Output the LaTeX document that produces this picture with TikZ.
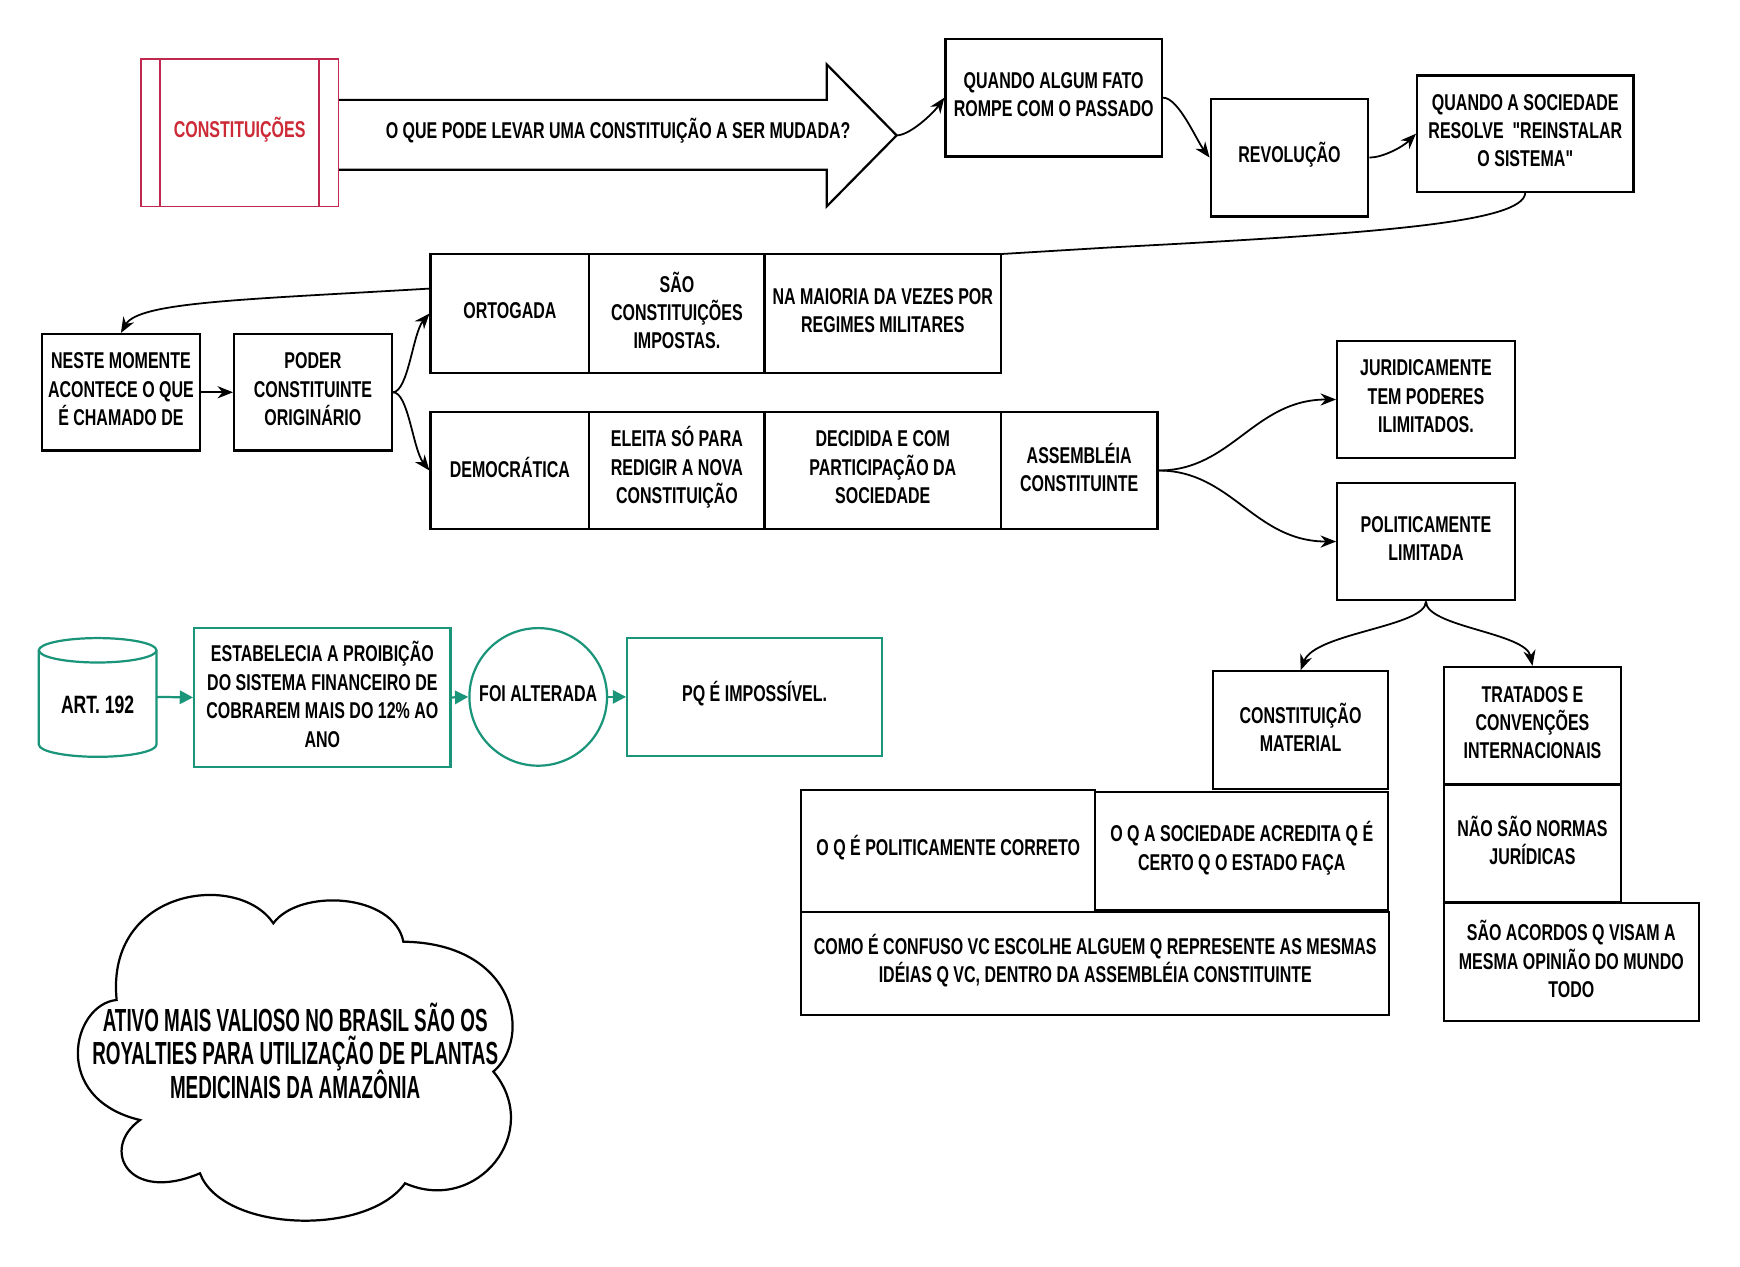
\documentclass[tikz,border=0pt]{standalone}
\usepackage{fontspec}
\setmainfont{Liberation Sans}[FakeStretch=0.7]
\newfontfamily\cloudfont{Liberation Sans}[FakeStretch=0.59]
\font\rawq="Liberation Sans/B:extend=0.7" at 10.3pt
\newcommand\sq{{\rawq\symbol{34}}}
\usetikzlibrary{arrows.meta}
\definecolor{tealc}{HTML}{1A957A}
\definecolor{crim}{HTML}{C0284F}
\definecolor{redtxt}{HTML}{CC2A36}
\newcommand\mybxfont{\bfseries\fontsize{10.3}{12.8}\selectfont\lineskiplimit=-20pt\relax}
\newcommand\mycloudfont{\cloudfont\bfseries\fontsize{14.4}{15}\selectfont\lineskiplimit=-20pt\relax}
\newcommand\mycylfont{\bfseries\fontsize{11.3}{13}\selectfont}
\tikzset{
  box/.style={draw, line width=1pt, fill=white, align=center, inner sep=0pt, font=\mybxfont},
  sz/.style 2 args={minimum width=#1*0.5pt, minimum height=#2*0.5pt},
  tx/.style={label={[plain, yshift=1.4pt]center:{#1}}},
  conn/.style={line width=0.8pt, -{Stealth[length=7pt,width=5.5pt]}},
  tconn/.style={draw=tealc, line width=1pt, -{Triangle[length=6pt,width=6pt]}},
  plain/.style={align=center, inner sep=0pt, font=\mybxfont},
}
\begin{document}
\begin{tikzpicture}[x=0.5pt,y=-0.5pt]
\useasboundingbox (0,0) rectangle (1568,1141);

% big arrow
\draw[line width=1pt, fill=white] (305,90) -- (745,90) -- (745,58) -- (808,122) -- (745,186) -- (745,153) -- (305,153);
\node[plain] (qtxt) at (557,118) {O QUE PODE LEVAR UMA CONSTITUIÇÃO A SER MUDADA?};
\coordinate (tip) at (808,122);

% constituicoes
\node[box, draw=crim, line width=0.8pt, sz={178}{133}, tx={\color{redtxt}CONSTITUIÇÕES}] (cons) at (216,119.5) {};
\draw[crim, line width=0.8pt] ([xshift=9pt]cons.north west) -- ([xshift=9pt]cons.south west);
\draw[crim, line width=0.8pt] ([xshift=-9pt]cons.north east) -- ([xshift=-9pt]cons.south east);

% top row
\node[box, sz={195}{106}, tx={QUANDO ALGUM FATO\\ROMPE COM O PASSADO}] (q1) at (949.5,88) {};
\node[box, sz={142}{106}, tx={REVOLUÇÃO}] (rev) at (1162,142) {};
\node[box, sz={195}{105}, tx={QUANDO A SOCIEDADE\\RESOLVE\ \ \sq REINSTALAR\\O SISTEMA\sq}] (q2) at (1374.5,120.5) {};

\draw[conn] (tip) .. controls +(12,0) and +(-10,14) .. (q1.west);
\draw[conn] (q1.east) .. controls +(14,0) and +(-12,-16) .. (rev.west);
\draw[conn] (rev.east) .. controls +(12,0) and +(-12,12) .. (q2.west);

% left boxes
\node[box, sz={142}{105}, tx={NESTE MOMENTE\\ACONTECE O QUE\\É CHAMADO DE}] (neste) at (109,353.5) {};
\node[box, sz={142}{105}, tx={PODER\\CONSTITUINTE\\ORIGINÁRIO}] (poder) at (282,353.5) {};

\draw[conn] (q2.south) .. controls (1372,200) and (1250,210) .. (1000,223) -- (388,260) .. controls (220,270) and (125,272) .. (neste.north);
\draw[conn] (neste.east) -- (poder.west);

% table row 1
\node[box, sz={143}{107}, tx={ORTOGADA}] (ort) at (459.5,282.5) {};
\node[box, sz={158}{107}, tx={SÃO\\CONSTITUIÇÕES\\IMPOSTAS.}] (sao) at (610,282.5) {};
\node[box, sz={213}{107}, tx={NA MAIORIA DA VEZES POR\\REGIMES MILITARES}] (nam) at (795.5,282.5) {};
% table row 2
\node[box, sz={143}{106}, tx={DEMOCRÁTICA}] (dem) at (459.5,424) {};
\node[box, sz={158}{106}, tx={ELEITA SÓ PARA\\REDIGIR A NOVA\\CONSTITUIÇÃO}] (ele) at (610,424) {};
\node[box, sz={213}{106}, tx={DECIDIDA E COM\\PARTICIPAÇÃO DA\\SOCIEDADE}] (dec) at (795.5,424) {};
\node[box, sz={141}{106}, tx={ASSEMBLÉIA\\CONSTITUINTE}] (ass) at (972.5,424) {};

\draw[conn] (poder.east) .. controls (368,353) and (372,300) .. (ort.west);
\draw[conn] (poder.east) .. controls (368,353) and (372,405) .. (dem.west);

% right
\node[box, sz={160}{106}, tx={JURIDICAMENTE\\TEM PODERES\\ILIMITADOS.}] (jur) at (1285,360) {};
\node[box, sz={160}{106}, tx={POLITICAMENTE\\LIMITADA}] (pol) at (1285,488) {};
\draw[conn] (ass.east) .. controls (1110,424) and (1130,360) .. (jur.west);
\draw[conn] (ass.east) .. controls (1110,424) and (1130,488) .. (pol.west);

\node[box, sz={158}{106}, tx={CONSTITUIÇÃO\\MATERIAL}] (cmat) at (1172,658) {};
\node[box, sz={160}{106}, tx={TRATADOS E\\CONVENÇÕES\\INTERNACIONAIS}] (trat) at (1381,654) {};
\node[box, sz={160}{106}, tx={NÃO SÃO NORMAS\\JURÍDICAS}] (nao) at (1381,760) {};
\node[box, sz={230}{106}, tx={SÃO ACORDOS Q VISAM A\\MESMA OPINIÃO DO MUNDO\\TODO}] (acordos) at (1416,867) {};
\node[box, sz={265}{110}, tx={O Q É POLITICAMENTE CORRETO}] (opc) at (854.5,767) {};
\node[box, sz={264}{106}, tx={O Q A SOCIEDADE ACREDITA Q É\\CERTO Q O ESTADO FAÇA}] (oqa) at (1119,767) {};
\node[box, sz={530}{93}, tx={COMO É CONFUSO VC ESCOLHE ALGUEM Q REPRESENTE AS MESMAS\\IDÉIAS Q VC, DENTRO DA ASSEMBLÉIA CONSTITUINTE}] (como) at (987,868.5) {};

\draw[conn] (pol.south) .. controls (1285,565) and (1185,570) .. (cmat.north);
\draw[conn] (pol.south) .. controls (1285,565) and (1375,570) .. (trat.north);

% teal group
\draw[tealc, line width=1pt, fill=white] (35,586) -- (35,671) arc[start angle=180, end angle=360, x radius=26.5pt, y radius=5.5pt] -- (141,586);
\draw[tealc, line width=1pt, fill=white] (88,586) ellipse[x radius=26.5pt, y radius=5.5pt];
\node[minimum width=53pt, minimum height=53pt, inner sep=0pt] (cyl) at (88,628) {};
\node[plain, font=\mycylfont] (cyltxt) at (88,635) {ART. 192};

\node[box, draw=tealc, sz={231}{125}, tx={ESTABELECIA A PROIBIÇÃO\\DO SISTEMA FINANCEIRO DE\\COBRAREM MAIS DO 12\% AO\\ANO}] (est) at (290.5,628.5) {};
\node[box, draw=tealc, circle, minimum size=62pt, tx={FOI ALTERADA}] (foi) at (485,628) {};
\node[box, draw=tealc, line width=0.8pt, sz={230}{106}, tx={PQ É IMPOSSÍVEL.}] (pq) at (680,628) {};

\draw[tconn] (cyl.east) -- (est.west);
\draw[tconn] (est.east) -- (foi.west);
\draw[tconn] (foi.east) -- (pq.west);

% cloud
\draw[line width=1pt, fill=white] (105.1,901.1)
  .. controls (65,905) and (45,990) .. (126.2,1009.3)
  .. controls (90,1035) and (115,1085) .. (180.2,1057.3)
  .. controls (200,1110) and (330,1115) .. (365,1066.3)
  .. controls (430,1095) and (490,1020) .. (444.6,965.7)
  .. controls (480,935) and (465,850) .. (363.5,848.6)
  .. controls (355,805) and (270,800) .. (246.3,832)
  .. controls (215,785) and (95,800) .. (105.1,901.1) -- cycle;
\node[align=center, inner sep=0pt, font=\mycloudfont] (cloudtxt) at (266,947) {ATIVO MAIS VALIOSO NO BRASIL SÃO OS\\ROYALTIES PARA UTILIZAÇÃO DE PLANTAS\\MEDICINAIS DA AMAZÔNIA};
\end{tikzpicture}
\end{document}
